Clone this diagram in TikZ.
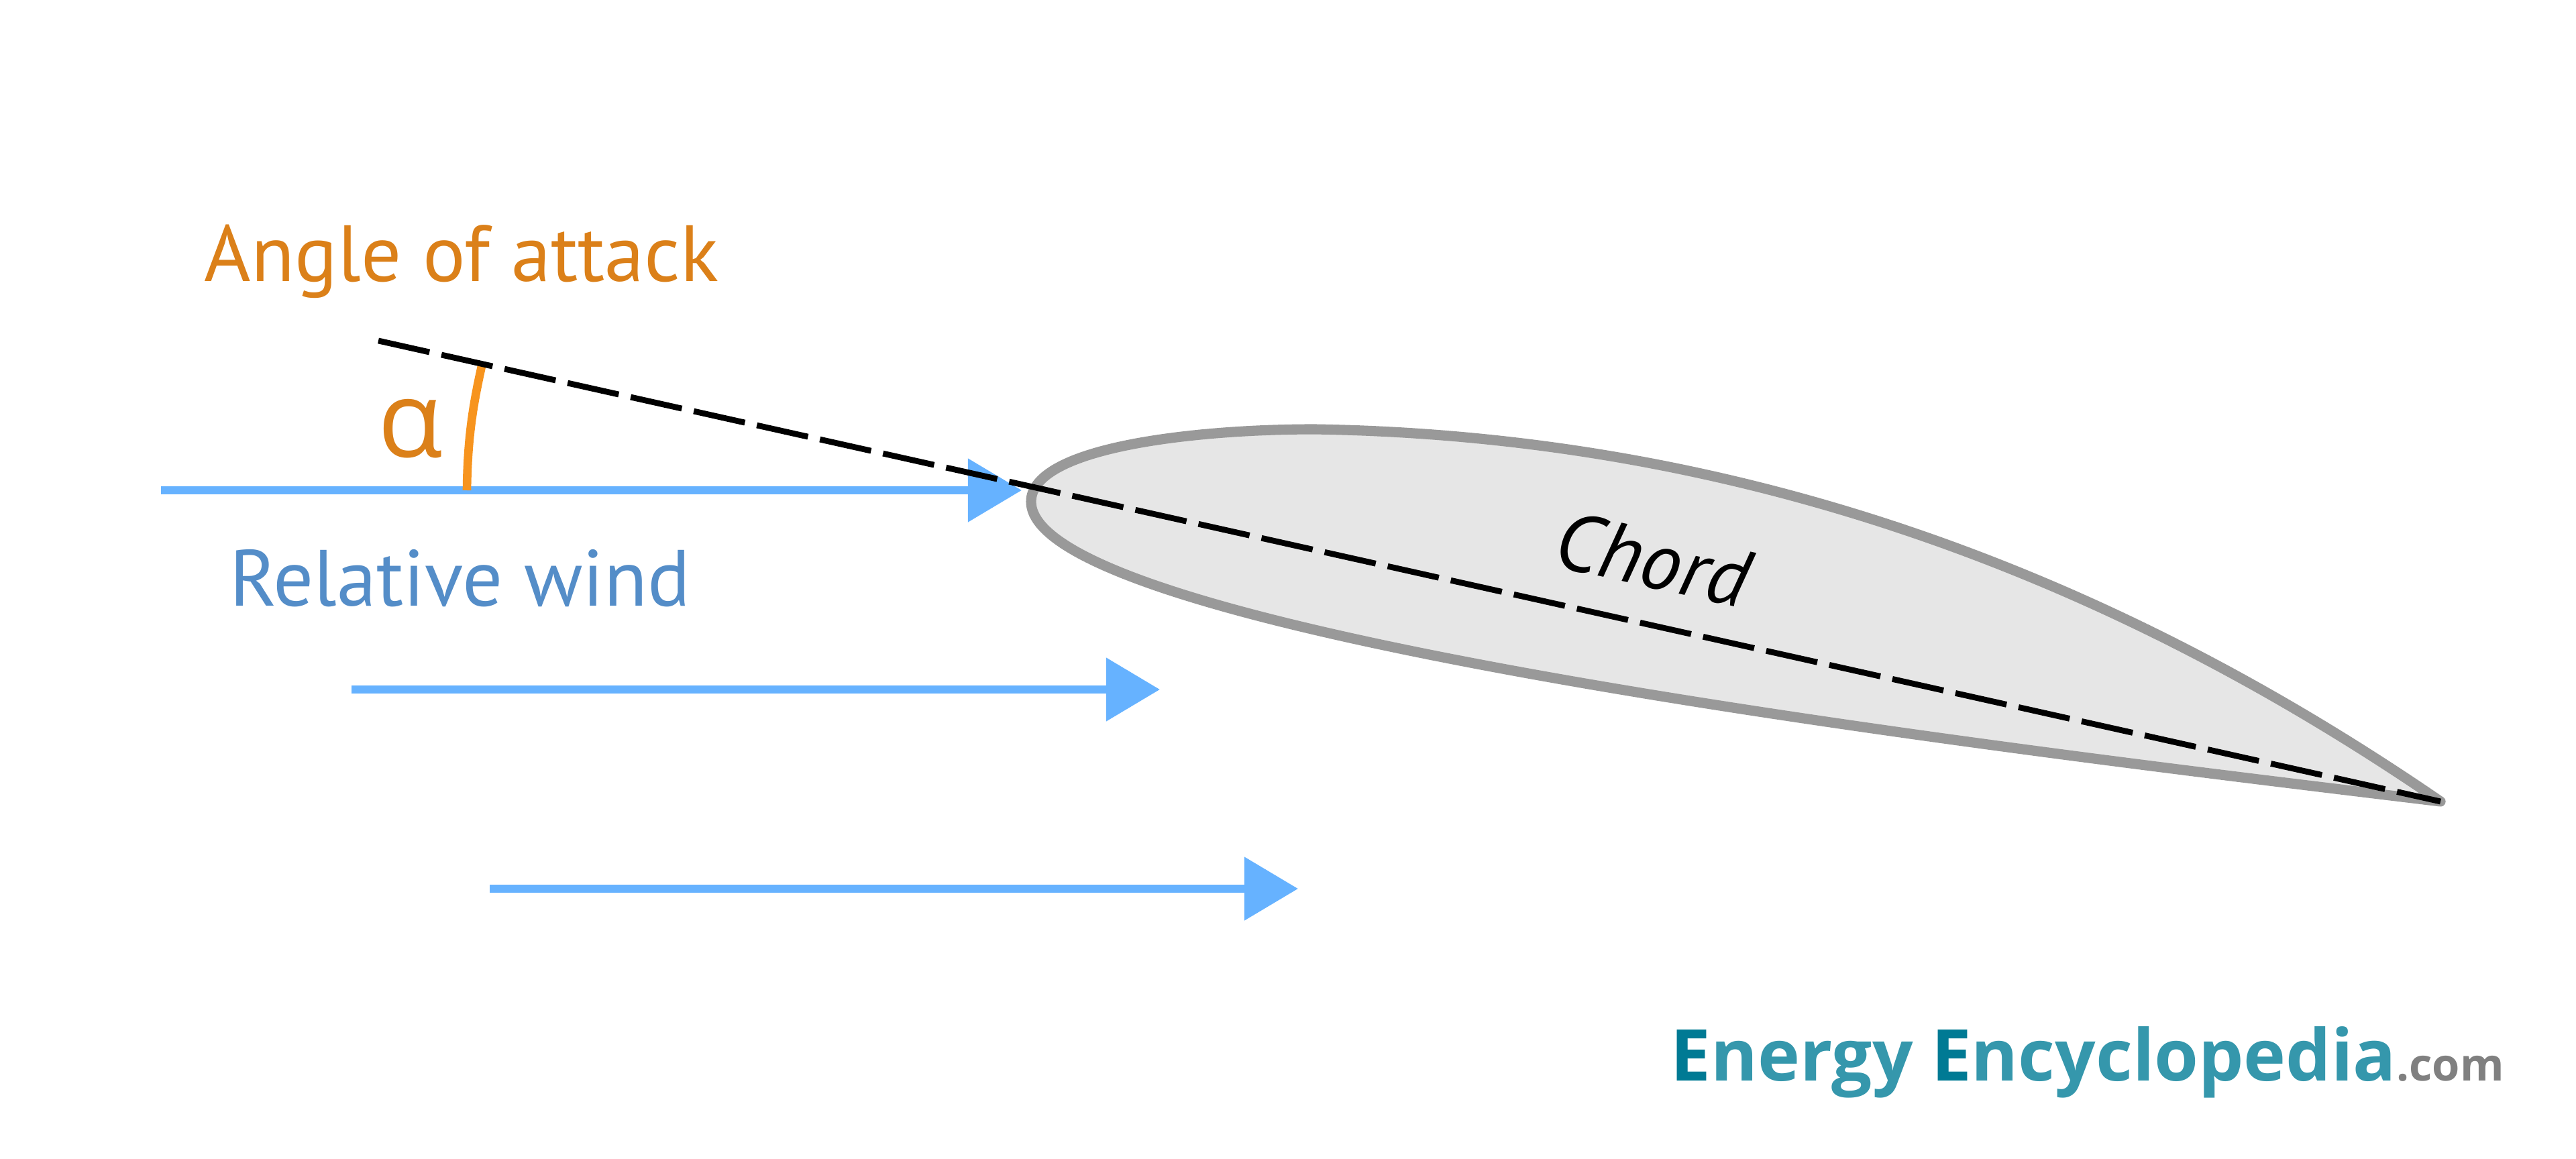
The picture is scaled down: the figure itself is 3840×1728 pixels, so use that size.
\documentclass[tikz,border=0pt]{standalone}
\usepackage{fontspec}
\usetikzlibrary{arrows.meta}
\setmainfont{PT Sans}
\newfontfamily\greekfont{Open Sans}
\newfontfamily\logofont{Open Sans}
\definecolor{windblue}{HTML}{66B2FF}
\definecolor{windtext}{HTML}{548DC8}
\definecolor{angletext}{HTML}{DB8019}
\definecolor{anglearc}{HTML}{F7941E}
\definecolor{foilline}{HTML}{999999}
\definecolor{foilfill}{HTML}{E6E6E6}
\definecolor{logodark}{HTML}{007A94}
\definecolor{logoteal}{HTML}{3597AC}
\definecolor{logogray}{HTML}{808080}

\begin{document}
\begin{tikzpicture}[x=0.01cm, y=-0.01cm,
    wind/.style={draw=windblue, line width=3.3pt, -{Triangle[length=0.8cm, width=0.92cm]}},
    label/.style={inner sep=0pt, anchor=base},
    logo/.style={inner sep=0pt, anchor=base west, font=\logofont\bfseries\fontsize{30.3}{36}\selectfont}]
    \useasboundingbox (0,0) rectangle (3840,1728);

    % airfoil
    \draw[draw=foilline, fill=foilfill, line width=4.3pt, line join=round]
        (1537,748) .. controls (1537,665) and (1790,640) .. (1959,640)
        .. controls (2600,650) and (3150,860) .. (3638,1195)
        .. controls (3000,1118) and (1537,945) .. (1537,748) -- cycle;

    \coordinate (w1a) at (240,731);
    \coordinate (w1b) at (1523,731);
    \coordinate (w2a) at (524,1028);
    \coordinate (w2b) at (1729,1028);
    \coordinate (w3a) at (730,1325);
    \coordinate (w3b) at (1935,1325);
    \coordinate (chorda) at (564,508);
    \coordinate (chordb) at (3638,1195);
    \coordinate (arca) at (696,731);
    \coordinate (arcb) at (718,546);

    \draw[wind] (w1a) -- (w1b);
    \draw[wind] (w2a) -- (w2b);
    \draw[wind] (w3a) -- (w3b);
    \draw[anglearc, line width=3.6pt] (arca) .. controls (697,650) and (706,600) .. (arcb);
    \draw[black, line width=2.5pt, dash pattern=on 0.78cm off 0.183cm] (chorda) -- (chordb);

    \node[label, text=angletext, font=\fontsize{33.8}{40}\selectfont] (angle) at (688,420) {Angle of attack};
    \node[label, text=windtext, font=\fontsize{33.8}{40}\selectfont] (relwind) at (686,903) {Relative wind};
    \node[label, text=angletext, font=\greekfont\fontsize{45}{54}\selectfont] (alpha) at (612,682) {α};
    \node[label, rotate=-12.6, font=\itshape\fontsize{34.4}{40}\selectfont] (chord) at (2455,875) {Chord};

    \node[logo, text=logoteal] (brand) at (2490,1611)
        {\textcolor{logodark}{E}nergy \textcolor{logodark}{E}ncyclopedia\textcolor{logogray}{\fontsize{19}{23}\selectfont.com}};
\end{tikzpicture}
\end{document}
